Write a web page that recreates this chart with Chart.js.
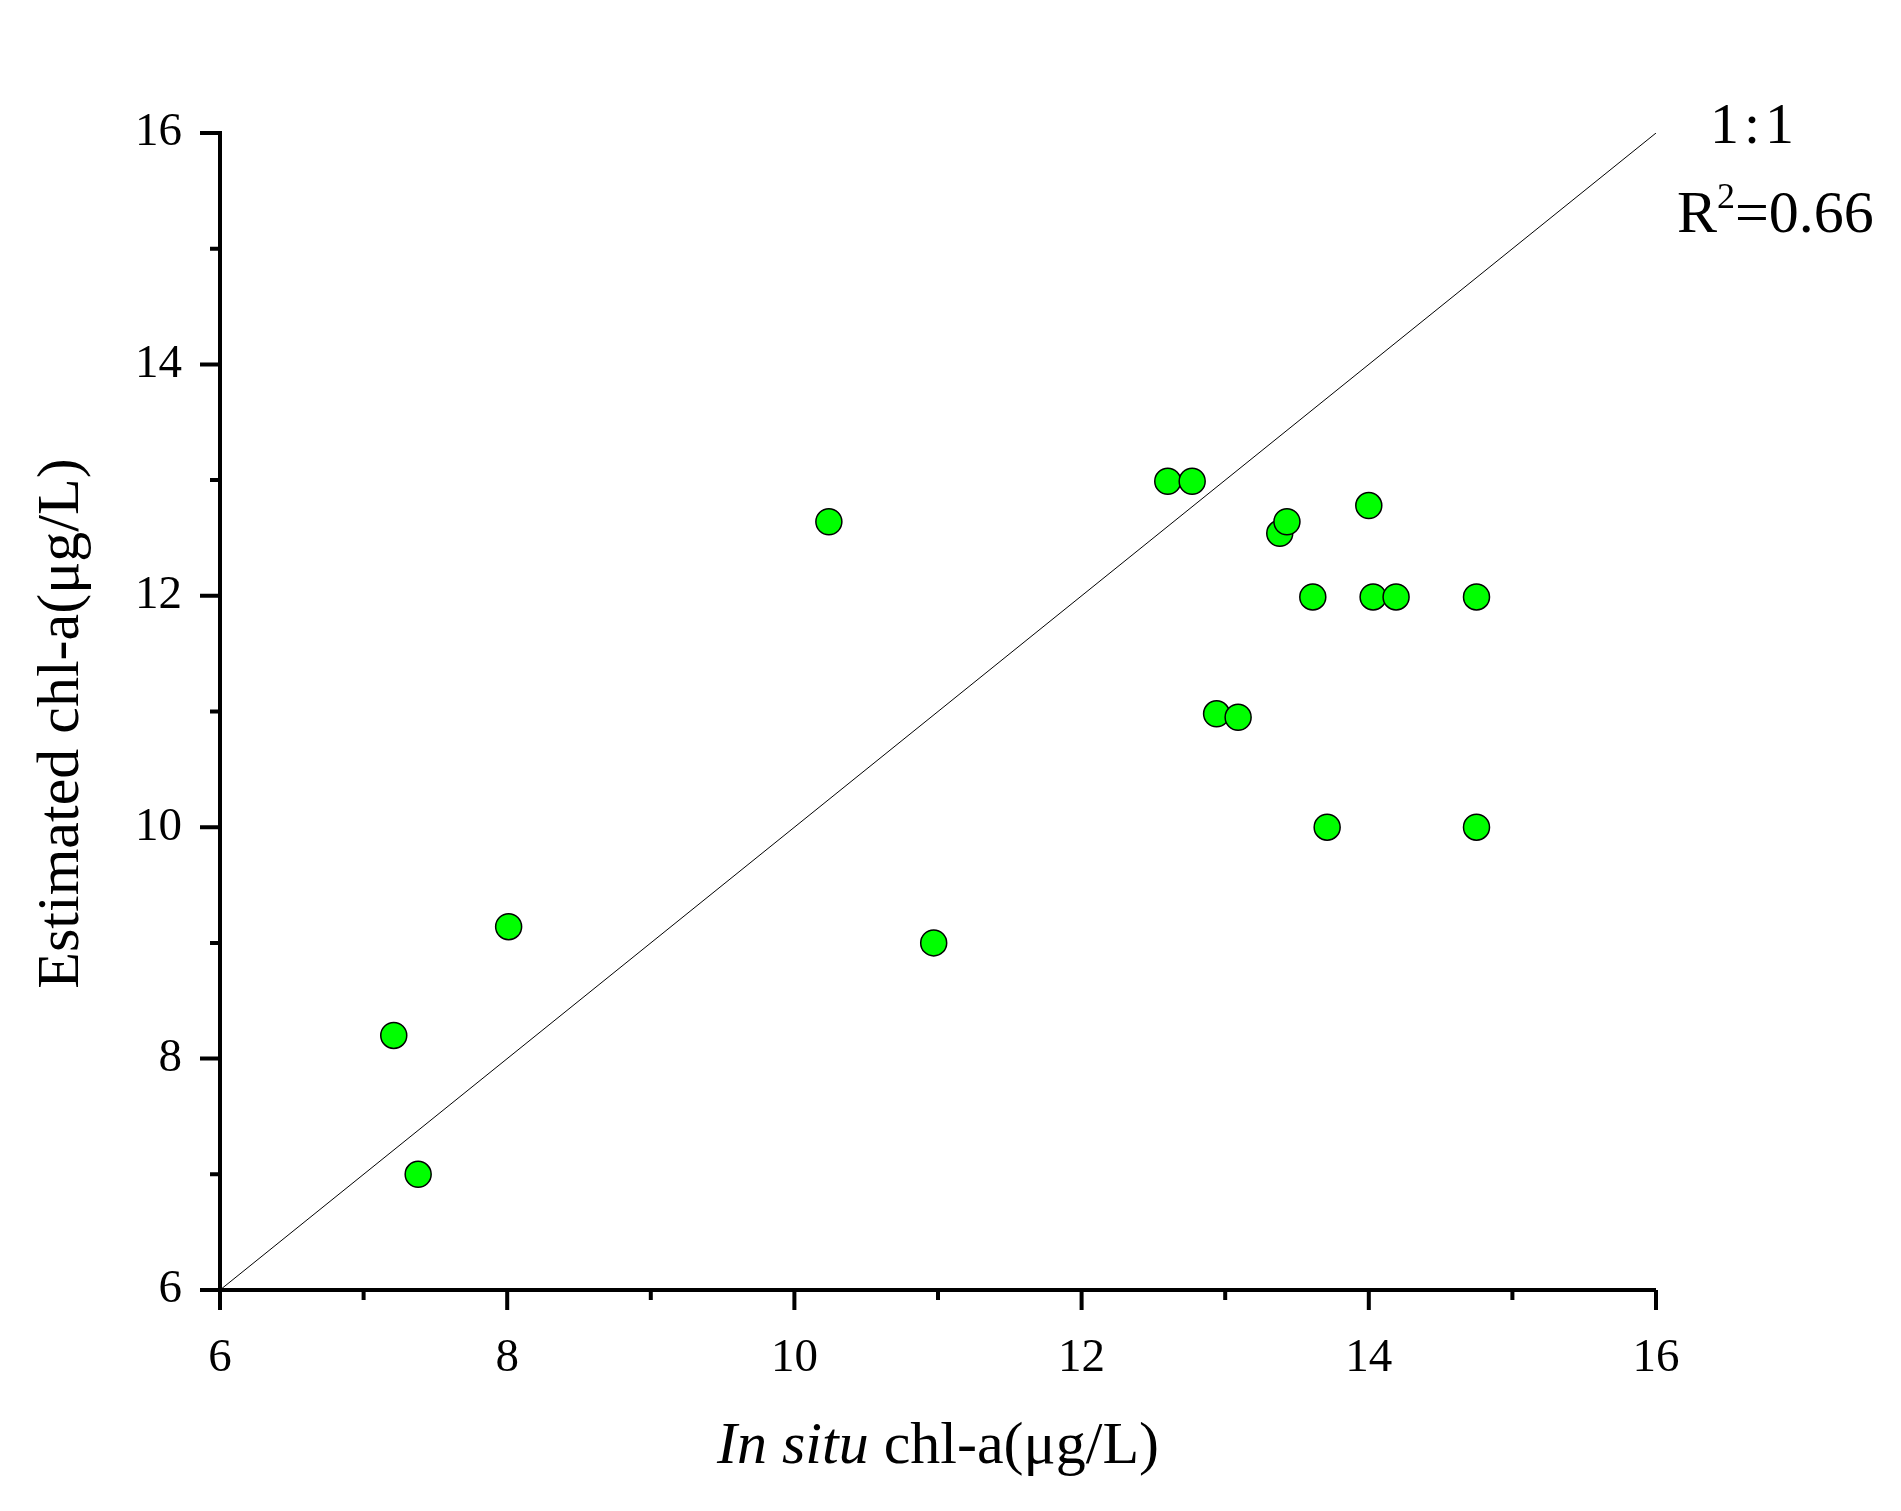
<!DOCTYPE html>
<html>
<head>
<meta charset="utf-8">
<script src="https://cdn.jsdelivr.net/npm/chart.js@4"></script>
<style>
  html, body { margin: 0; padding: 0; background: #fff; }
  #chart { display: block; }
</style>
</head>
<body>
<canvas id="chart" width="1901" height="1511"></canvas>
<script>
// in situ vs estimated chl-a (ug/L)
const inSitu = [7.21, 7.38, 8.01, 10.24, 10.97, 12.60, 12.77, 12.94, 13.09, 13.38, 13.43, 13.61, 14.00, 14.03, 14.19, 14.75, 13.71, 14.75];
const estimated = [8.20, 7.00, 9.14, 12.64, 9.00, 12.99, 12.99, 10.98, 10.95, 12.54, 12.64, 11.99, 12.78, 11.99, 11.99, 11.99, 10.00, 10.00];
const oneToOne = [6, 16];
const axisMin = 6, axisMax = 16;
const majorTicks = [6, 8, 10, 12, 14, 16];
const minorTicks = [7, 9, 11, 13, 15];

const serif = '"Liberation Serif", "Times New Roman", serif';

// axes, ticks and annotation text
const decorPlugin = {
    id: 'decor',
    afterDraw(chart) {
        const c = chart.ctx;
        const xs = chart.scales.x, ys = chart.scales.y;
        const x0 = xs.getPixelForValue(axisMin), x1 = xs.getPixelForValue(axisMax);
        const y0 = ys.getPixelForValue(axisMin), y1 = ys.getPixelForValue(axisMax);
        c.save();
        c.strokeStyle = '#000';
        c.lineWidth = 4;
        c.lineCap = 'butt';
        c.beginPath();
        c.moveTo(x0, y0); c.lineTo(x1, y0);
        c.moveTo(x0, y1 - 2); c.lineTo(x0, y0);
        majorTicks.forEach(v => {
            const px = xs.getPixelForValue(v);
            c.moveTo(px, y0); c.lineTo(px, y0 + 20);
            const py = ys.getPixelForValue(v);
            c.moveTo(x0, py); c.lineTo(x0 - 20, py);
        });
        minorTicks.forEach(v => {
            const px = xs.getPixelForValue(v);
            c.moveTo(px, y0); c.lineTo(px, y0 + 10);
            const py = ys.getPixelForValue(v);
            c.moveTo(x0, py); c.lineTo(x0 - 10, py);
        });
        c.stroke();

        c.fillStyle = '#000';
        // y title
        c.save();
        c.translate(62, (y0 + y1) / 2 + 12);
        c.rotate(-Math.PI / 2);
        c.font = '60px ' + serif;
        c.textAlign = 'center';
        c.textBaseline = 'middle';
        c.fillText('Estimated chl-a(\u03bcg/L)', 0, 0);
        c.restore();

        // x title: italic "In situ" + normal rest
        c.textBaseline = 'alphabetic';
        c.textAlign = 'left';
        const part1 = 'In situ', part2 = ' chl-a(\u03bcg/L)';
        c.font = 'italic 60px ' + serif;
        const w1 = c.measureText(part1).width;
        c.font = '60px ' + serif;
        const w2 = c.measureText(part2).width;
        let tx = (x0 + x1) / 2 - (w1 + w2) / 2;
        c.font = 'italic 60px ' + serif;
        c.fillText(part1, tx, 1463);
        c.font = '60px ' + serif;
        c.fillText(part2, tx + w1, 1463);

        // 1:1 and R2
        c.font = '58px ' + serif;
        c.textAlign = 'center';
        c.fillText('1\u200a:\u200a1', 1752, 143);
        c.textAlign = 'left';
        c.font = '60px ' + serif;
        let rx = 1677;
        c.fillText('R', rx, 232);
        rx += c.measureText('R').width;
        c.font = '36px ' + serif;
        c.fillText('2', rx, 208);
        rx += c.measureText('2').width;
        c.font = '60px ' + serif;
        c.fillText('=0.66', rx, 232);
        c.restore();
    }
};

const ctx = document.getElementById('chart').getContext('2d');
const chart = new Chart(ctx, {
    type: 'scatter',
    data: {
        datasets: [{
            label: 'points',
            data: inSitu.map((v, i) => ({ x: v, y: estimated[i] })),
            backgroundColor: '#00ff00',
            borderColor: '#000',
            borderWidth: 1.5,
            pointRadius: 13,
            pointHoverRadius: 13,
            order: 1
        }, {
            type: 'line',
            label: '1:1',
            data: oneToOne.map(v => ({ x: v, y: v })),
            borderColor: '#000',
            borderWidth: 1,
            pointRadius: 0,
            fill: false,
            order: 2
        }]
    },
    options: {
        responsive: false,
        animation: false,
        events: [],
        layout: { padding: { left: 0, right: 245, top: 133, bottom: 0 } },
        plugins: { legend: { display: false }, tooltip: { enabled: false } },
        scales: {
            x: {
                type: 'linear',
                min: axisMin, max: axisMax,
                grid: { display: false, drawTicks: false },
                border: { display: false },
                afterFit: s => { s.height = 221; },
                ticks: {
                    stepSize: 1,
                    autoSkip: false,
                    maxRotation: 0,
                    padding: 40,
                    color: '#000',
                    font: { family: serif, size: 47 },
                    callback: v => (v % 2 === 0 ? String(v) : '')
                }
            },
            y: {
                type: 'linear',
                min: axisMin, max: axisMax,
                grid: { display: false, drawTicks: false },
                border: { display: false },
                afterFit: s => { s.width = 220; },
                ticks: {
                    stepSize: 1,
                    autoSkip: false,
                    padding: 38,
                    color: '#000',
                    font: { family: serif, size: 47 },
                    callback: v => (v % 2 === 0 ? String(v) : '')
                }
            }
        }
    },
    plugins: [decorPlugin]
});
</script>
</body>
</html>
